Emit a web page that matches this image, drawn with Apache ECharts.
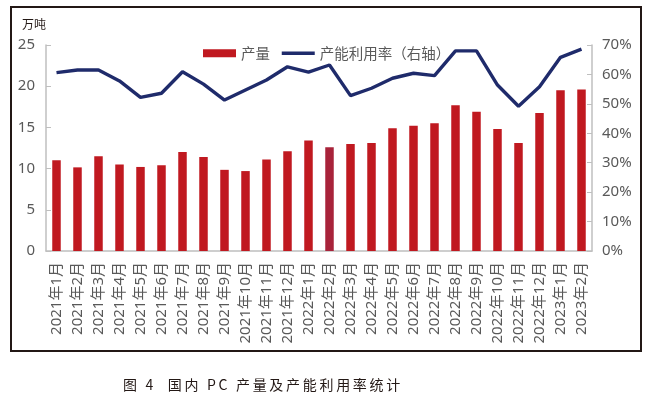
<!DOCTYPE html>
<html>
<head>
<meta charset="utf-8">
<script src="https://cdn.jsdelivr.net/npm/echarts@6/dist/echarts.min.js"></script>
<style>
	html, body { margin: 0; padding: 0; background: #fff; }
	#wrap { position: relative; width: 647px; height: 399px; }
	#frame { position: absolute; left: 10px; top: 6px; width: 628px; height: 342px; border: 2px solid #231815; }
	#chart { position: absolute; left: 0; top: 0; width: 647px; height: 399px; }
	#caption { position: absolute; left: 123px; top: 374px; font-family: "Noto Sans CJK SC"; font-size: 14px;
		letter-spacing: 2.7px; color: #231815; white-space: pre; line-height: 20px; }
</style>
</head>
<body>
<div id="wrap">
	<div id="frame"></div>
	<div id="chart"></div>
	<div id="caption">图 4  国内 PC 产量及产能利用率统计</div>
</div>
<script>
// 月份
var months = ['2021年1月', '2021年2月', '2021年3月', '2021年4月', '2021年5月', '2021年6月',
	'2021年7月', '2021年8月', '2021年9月', '2021年10月', '2021年11月', '2021年12月',
	'2022年1月', '2022年2月', '2022年3月', '2022年4月', '2022年5月', '2022年6月',
	'2022年7月', '2022年8月', '2022年9月', '2022年10月', '2022年11月', '2022年12月',
	'2023年1月', '2023年2月'];
// 产量（万吨）
var output = [11.0, 10.15, 11.5, 10.5, 10.2, 10.4, 12.0, 11.4, 9.85, 9.7, 11.1, 12.1,
	13.4, 12.6, 13.0, 13.1, 14.9, 15.2, 15.5, 17.7, 16.9, 14.8, 13.1, 16.75, 19.5, 19.6];
// 产能利用率（%）
var rate = [60.6, 61.5, 61.5, 57.8, 52.2, 53.6, 60.9, 56.7, 51.3, 54.7, 58.1, 62.6,
	60.8, 63.2, 52.8, 55.3, 58.7, 60.4, 59.6, 68.0, 68.0, 56.4, 49.2, 55.8, 65.8, 68.6];
var highlightIndex = 13; // 2022年2月 颜色较深

var labelColor = '#595959';
var axisColor = '#BFBFBF';
var lineColor = '#1F2B6B';

var myChart = echarts.init(document.getElementById('chart'), null, { renderer: 'canvas' });

var barData = [];
for (var i = 0; i < output.length; i++) {
	if (i == highlightIndex) {
		barData.push({ value: output[i], itemStyle: { color: '#A8233A' } });
	} else {
		barData.push(output[i]);
	}
}

var option = {
	animation: false,
	textStyle: { fontFamily: 'Noto Sans, Noto Sans CJK SC' },
	legend: {
		left: 198,
		top: 41,
		itemGap: 10,
		itemWidth: 33,
		itemHeight: 8,
		textStyle: { color: labelColor, fontSize: 14.5, fontFamily: 'Noto Sans CJK SC' },
		data: [
			{ name: '产量', icon: 'rect' },
			{
				name: '产能利用率（右轴）',
				itemStyle: { opacity: 0 },
				lineStyle: { color: lineColor, width: 3.5, opacity: 1 }
			}
		]
	},
	grid: {
		left: 46,
		right: 55,
		top: 45,
		bottom: 148,
		containLabel: false
	},
	xAxis: [{
		type: 'category',
		data: months,
		axisLine: { lineStyle: { color: axisColor, width: 1.5 } },
		axisTick: { inside: true, length: 5, lineStyle: { color: axisColor } },
		axisLabel: {
			interval: 0,
			rotate: 90,
			margin: 11,
			color: labelColor,
			fontSize: 15,
			fontFamily: 'Noto Sans, Noto Sans CJK SC'
		}
	}],
	yAxis: [{
		type: 'value',
		min: 0,
		max: 25,
		interval: 5,
		name: '万吨',
		nameLocation: 'end',
		nameGap: 15,
		nameTextStyle: { color: '#231815', fontSize: 12, align: 'right', fontFamily: 'Noto Sans CJK SC' },
		axisLine: { show: true, lineStyle: { color: axisColor, width: 1.5 } },
		axisTick: { show: true, inside: true, length: 5, lineStyle: { color: axisColor } },
		axisLabel: { color: labelColor, fontSize: 15, margin: 11 },
		splitLine: { show: false }
	}, {
		type: 'value',
		min: 0,
		max: 70,
		interval: 10,
		position: 'right',
		axisLine: { show: true, lineStyle: { color: axisColor, width: 1.5 } },
		axisTick: { show: true, inside: true, length: 5, lineStyle: { color: axisColor } },
		axisLabel: { color: labelColor, fontSize: 15, margin: 10, formatter: '{value}%' },
		splitLine: { show: false }
	}],
	series: [{
		name: '产量',
		type: 'bar',
		barWidth: 8.5,
		itemStyle: { color: '#C01920' },
		data: barData
	}, {
		name: '产能利用率（右轴）',
		type: 'line',
		yAxisIndex: 1,
		symbol: 'none',
		lineStyle: { color: lineColor, width: 3.4 },
		itemStyle: { color: lineColor },
		data: rate
	}]
};

myChart.setOption(option, true);
</script>
</body>
</html>
